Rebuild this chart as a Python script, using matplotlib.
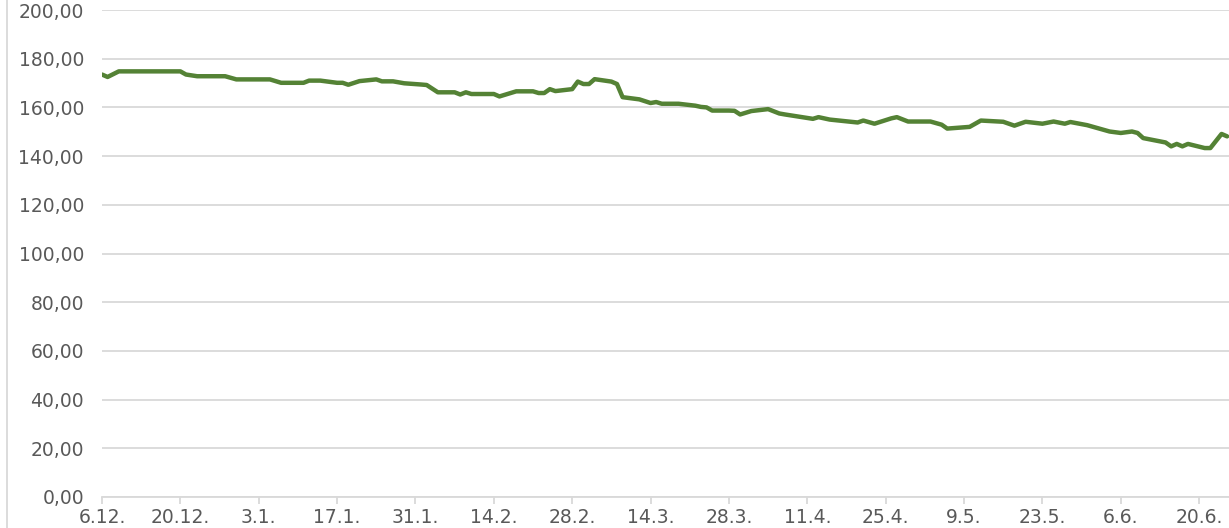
import matplotlib
matplotlib.use("Agg")
import matplotlib.pyplot as plt
import matplotlib.dates as mdates
import pandas as pd
from matplotlib.lines import Line2D

# Data (dates and values)
dates = [
    "2022-12-06", "2022-12-07", "2022-12-09", "2022-12-20", "2022-12-21", "2022-12-23",
    "2022-12-28", "2022-12-30", "2023-01-05", "2023-01-07", "2023-01-11", "2023-01-12",
    "2023-01-14", "2023-01-17", "2023-01-18", "2023-01-19", "2023-01-21", "2023-01-24",
    "2023-01-25", "2023-01-27", "2023-01-29", "2023-02-01", "2023-02-02", "2023-02-04",
    "2023-02-07", "2023-02-08", "2023-02-09", "2023-02-10", "2023-02-14", "2023-02-15",
    "2023-02-18", "2023-02-21", "2023-02-22", "2023-02-23", "2023-02-24", "2023-02-25",
    "2023-02-28", "2023-03-01", "2023-03-02", "2023-03-03", "2023-03-04", "2023-03-07",
    "2023-03-08", "2023-03-09", "2023-03-12", "2023-03-14", "2023-03-15", "2023-03-16",
    "2023-03-19", "2023-03-22", "2023-03-23", "2023-03-24", "2023-03-25", "2023-03-28",
    "2023-03-29", "2023-03-30", "2023-04-01", "2023-04-04", "2023-04-06", "2023-04-07",
    "2023-04-12", "2023-04-13", "2023-04-15", "2023-04-20", "2023-04-21", "2023-04-23",
    "2023-04-26", "2023-04-27", "2023-04-29", "2023-05-03", "2023-05-05", "2023-05-06",
    "2023-05-10", "2023-05-11", "2023-05-12", "2023-05-16", "2023-05-18", "2023-05-20",
    "2023-05-23", "2023-05-25", "2023-05-27", "2023-05-28", "2023-05-31", "2023-06-04",
    "2023-06-06", "2023-06-08", "2023-06-09", "2023-06-10", "2023-06-14", "2023-06-15",
    "2023-06-16", "2023-06-17", "2023-06-18", "2023-06-21", "2023-06-22", "2023-06-24",
    "2023-06-25",
]
values = [
    173.5, 172.5, 174.8, 174.8, 173.5, 172.8,
    172.8, 171.5, 171.5, 170.1, 170.1, 171.0,
    171.0, 170.1, 170.1, 169.3, 170.8, 171.5,
    170.7, 170.7, 169.9, 169.4, 169.2, 166.2,
    166.2, 165.3, 166.2, 165.5, 165.5, 164.5,
    166.6, 166.6, 165.9, 165.9, 167.5, 166.7,
    167.5, 170.6, 169.6, 169.6, 171.6, 170.6,
    169.6, 164.2, 163.3, 161.8, 162.2, 161.5,
    161.5, 160.7, 160.2, 160.0, 158.7, 158.7,
    158.6, 157.1, 158.5, 159.3, 157.5, 157.1,
    155.3, 156.0, 155.0, 153.8, 154.6, 153.3,
    155.5, 156.0, 154.2, 154.2, 152.9, 151.3,
    152.0, 153.3, 154.6, 154.1, 152.5, 154.1,
    153.3, 154.2, 153.3, 154.0, 152.7, 150.1,
    149.5, 150.1, 149.5, 147.4, 145.6, 144.0,
    145.0, 144.0, 145.0, 143.3, 143.3, 149.1,
    148.1,
]
y_ticks = [0, 20, 40, 60, 80, 100, 120, 140, 160, 180, 200]
y_tick_labels = ["0,00", "20,00", "40,00", "60,00", "80,00", "100,00",
                 "120,00", "140,00", "160,00", "180,00", "200,00"]
x_tick_labels = ["6.12.", "20.12.", "3.1.", "17.1.", "31.1.", "14.2.", "28.2.",
                 "14.3.", "28.3.", "11.4.", "25.4.", "9.5.", "23.5.", "6.6.", "20.6."]

x = pd.to_datetime(dates)
x_ticks = pd.date_range(start=x[0], periods=len(x_tick_labels), freq="14D")

W, H = 1229, 528
fig = plt.figure(figsize=(W / 100, H / 100), dpi=100)
ax = fig.add_axes([102 / W, 1 - 497 / H, (W - 102) / W, (497 - 10) / H])

grid_c = "#d9d9d9"
text_c = "#595959"

ax.plot(x, values, color="#548235", linewidth=3.2, solid_joinstyle="round",
        solid_capstyle="round", zorder=3)

ax.set_ylim(0, 200)
ax.set_xlim(x[0], x[-1] + pd.Timedelta(hours=8))
ax.set_yticks(y_ticks)
ax.set_yticklabels(y_tick_labels)
ax.set_xticks(x_ticks)
ax.set_xticklabels(x_tick_labels)

ax.yaxis.grid(True, color=grid_c, linewidth=1.3, zorder=0)
ax.set_axisbelow(True)
for s in ["top", "right", "left"]:
    ax.spines[s].set_visible(False)
ax.spines["bottom"].set_color(grid_c)
ax.spines["bottom"].set_linewidth(1.3)
ax.tick_params(axis="y", length=0, pad=13, labelsize=13.5, labelcolor=text_c)
ax.tick_params(axis="x", length=5, width=1.3, color=grid_c, pad=3,
               labelsize=13.5, labelcolor=text_c)
for lab in ax.get_xticklabels() + ax.get_yticklabels():
    lab.set_fontfamily("DejaVu Sans")

# chart-area border on the left
fig.add_artist(Line2D([7 / W, 7 / W], [0, 1], transform=fig.transFigure,
                      color=grid_c, linewidth=1.3))

fig.savefig("out.png", dpi=100)
